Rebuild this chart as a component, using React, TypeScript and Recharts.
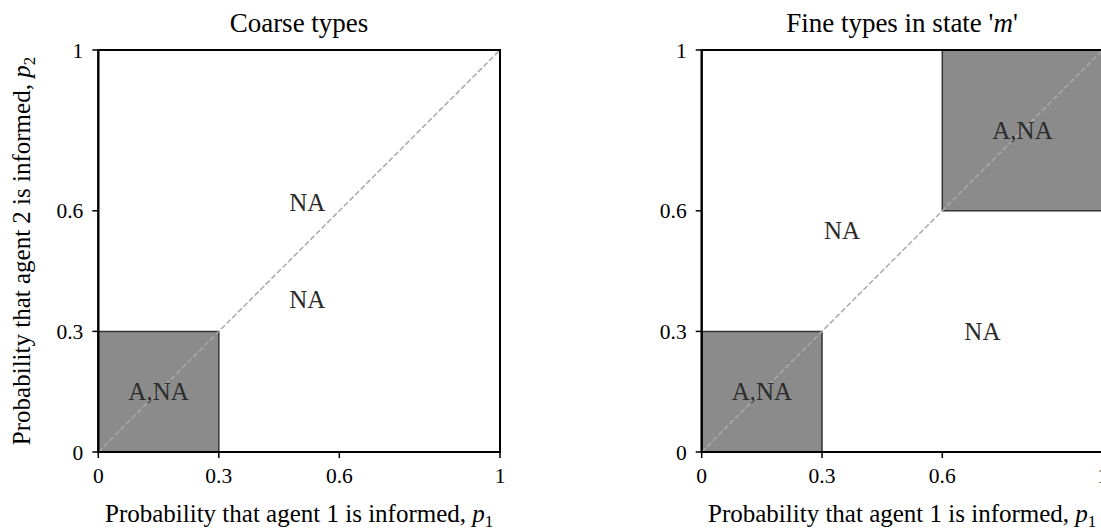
import React from 'react';
import { ComposedChart, XAxis, YAxis, Scatter, ReferenceArea, ReferenceLine } from 'recharts';

// ---- data ----
const tickValues = [0, 0.3, 0.6, 1];
const diagonal = [{ x: 0, y: 0 }, { x: 1, y: 1 }];
const frame = { x1: 0, x2: 1, y1: 0, y2: 1 };
const coarseBoxes = [{ x1: 0, x2: 0.3, y1: 0, y2: 0.3 }];
const fineBoxes = [
  { x1: 0, x2: 0.3, y1: 0, y2: 0.3 },
  { x1: 0.6, x2: 1, y1: 0.6, y2: 1 },
];
const coarseLabels = [
  { x: 0.52, y: 0.62, text: 'NA' },
  { x: 0.52, y: 0.38, text: 'NA' },
  { x: 0.15, y: 0.15, text: 'A,NA' },
];
const fineLabels = [
  { x: 0.35, y: 0.55, text: 'NA' },
  { x: 0.7, y: 0.3, text: 'NA' },
  { x: 0.8, y: 0.8, text: 'A,NA' },
  { x: 0.15, y: 0.15, text: 'A,NA' },
];
const titles = ['Coarse types', 'Fine types in state '];
const xLabel = 'Probability that agent 1 is informed, ';
const yLabel = 'Probability that agent 2 is informed, ';

const FONT = '"Liberation Serif", "Times New Roman", serif';
const TICK_STYLE = { fontFamily: FONT, fontSize: 21.5, fill: '#000' };

const RegionText = (props: any) => {
  const { cx, cy, payload } = props;
  if (cx == null || cy == null) return null;
  return (
    <text
      x={cx}
      y={cy}
      textAnchor="middle"
      dominantBaseline="central"
      fontFamily={FONT}
      fontSize={25}
      fill="#2b2b2b"
    >
      {payload.text}
    </text>
  );
};

const XLabelContent = (props: any) => {
  const vb = props.viewBox || {};
  const cx = vb.x + vb.width / 2;
  const y = vb.y + 70;
  return (
    <text x={cx} y={y} textAnchor="middle" fontFamily={FONT} fontSize={25} fill="#000">
      {xLabel}
      <tspan fontStyle="italic">p</tspan>
      <tspan fontSize={17} dy={5}>1</tspan>
    </text>
  );
};

const YLabelContent = (props: any) => {
  const vb = props.viewBox || {};
  const x = vb.x + vb.width - 68;
  const cy = vb.y + vb.height / 2;
  return (
    <text
      x={x}
      y={cy}
      transform={`rotate(-90, ${x}, ${cy})`}
      textAnchor="middle"
      fontFamily={FONT}
      fontSize={25}
      fill="#000"
    >
      {yLabel}
      <tspan fontStyle="italic">p</tspan>
      <tspan fontSize={17} dy={5}>2</tspan>
    </text>
  );
};

type PanelProps = {
  boxes: { x1: number; x2: number; y1: number; y2: number }[];
  labels: { x: number; y: number; text: string }[];
  marginLeft: number;
  marginRight: number;
  width: number;
  showYLabel: boolean;
};

const Panel = ({ boxes, labels, marginLeft, marginRight, width, showYLabel }: PanelProps) => (
  <ComposedChart
    width={width}
    height={531}
    margin={{ top: 50, right: marginRight, bottom: 49, left: marginLeft }}
  >
    <XAxis
      type="number"
      dataKey="x"
      domain={[0, 1]}
      ticks={tickValues}
      allowDataOverflow
      height={30}
      tickSize={6}
      tickMargin={10}
      tick={TICK_STYLE}
      axisLine={{ stroke: '#000', strokeWidth: 2 }}
      tickLine={{ stroke: '#000', strokeWidth: 1.5 }}
      label={<XLabelContent />}
    />
    <YAxis
      type="number"
      dataKey="y"
      domain={[0, 1]}
      ticks={tickValues}
      allowDataOverflow
      width={60}
      tickSize={6}
      tickMargin={9}
      tick={TICK_STYLE}
      axisLine={{ stroke: '#000', strokeWidth: 2 }}
      tickLine={{ stroke: '#000', strokeWidth: 1.5 }}
      label={showYLabel ? <YLabelContent /> : undefined}
    />
    {boxes.map((b, i) => (
      <ReferenceArea
        key={i}
        x1={b.x1}
        x2={b.x2}
        y1={b.y1}
        y2={b.y2}
        fill="#8b8b8b"
        fillOpacity={1}
        stroke="#333"
        strokeWidth={1.5}
        ifOverflow="visible"
      />
    ))}
    <ReferenceLine
      segment={diagonal}
      stroke="#a9a9a9"
      strokeWidth={1.5}
      strokeDasharray="5.5 2.4"
      ifOverflow="visible"
    />
    <ReferenceArea
      x1={frame.x1}
      x2={frame.x2}
      y1={frame.y1}
      y2={frame.y2}
      fill="none"
      fillOpacity={0}
      stroke="#000"
      strokeWidth={2}
      ifOverflow="visible"
    />
    <Scatter data={labels} dataKey="y" shape={<RegionText />} isAnimationActive={false} />
  </ComposedChart>
);

export default function App() {
  return (
    <div
      style={{
        position: 'absolute',
        left: 0,
        top: 0,
        width: 1101,
        height: 531,
        overflow: 'hidden',
        background: '#fff',
      }}
    >
      <div style={{ position: 'absolute', left: 0, top: 0 }}>
        <Panel
          boxes={coarseBoxes}
          labels={coarseLabels}
          marginLeft={38.3}
          marginRight={50}
          width={550}
          showYLabel
        />
      </div>
      <div style={{ position: 'absolute', left: 550, top: 0 }}>
        <Panel
          boxes={fineBoxes}
          labels={fineLabels}
          marginLeft={91.7}
          marginRight={47.3}
          width={600}
          showYLabel={false}
        />
      </div>
      <svg
        width={1101}
        height={40}
        style={{ position: 'absolute', left: 0, top: 0, pointerEvents: 'none' }}
      >
        <text x={299} y={32} textAnchor="middle" fontFamily={FONT} fontSize={27} fill="#000">
          {titles[0]}
        </text>
        <text x={902} y={32} textAnchor="middle" fontFamily={FONT} fontSize={27} fill="#000">
          {titles[1]}
          {"'"}
          <tspan fontStyle="italic">m</tspan>
          {"'"}
        </text>
      </svg>
    </div>
  );
}
